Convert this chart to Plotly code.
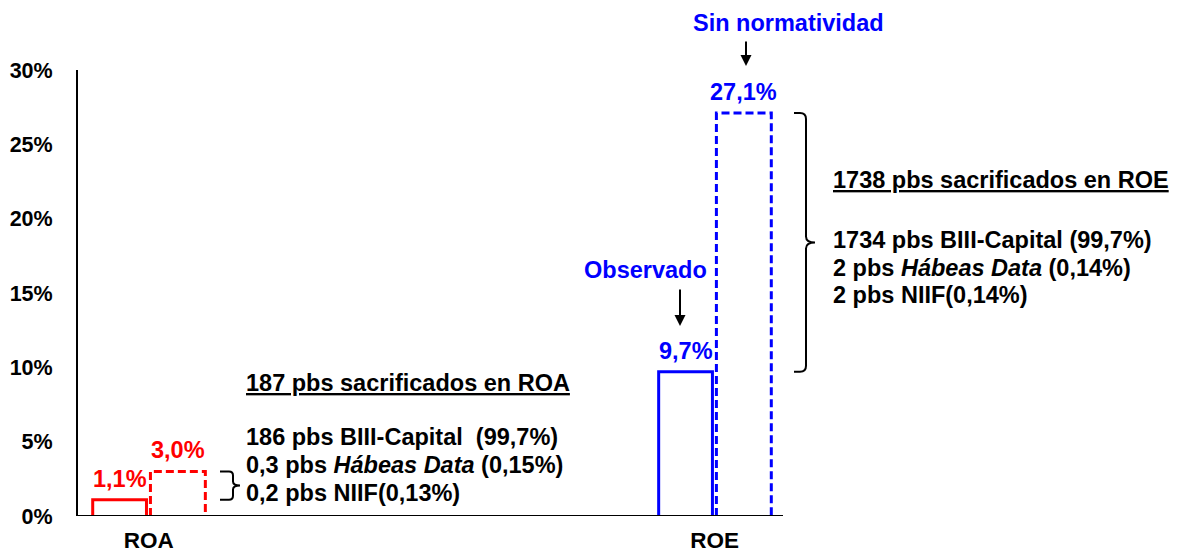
import plotly.graph_objects as go

# ---- data ----
categories = ["ROA", "ROE"]
observado = [1.1, 9.7]          # %
sin_normatividad = [3.0, 27.1]  # %
obs_labels = ["1,1%", "9,7%"]
sin_labels = ["3,0%", "27,1%"]
cat_colors = ["#FF0000", "#0000FF"]
y_ticks = [0, 5, 10, 15, 20, 25, 30]
y_ticktext = ["0%", "5%", "10%", "15%", "20%", "25%", "30%"]

roa_title = "187 pbs sacrificados en ROA"
roa_lines = ["186 pbs BIII-Capital  (99,7%)",
             "0,3 pbs <i>Hábeas Data</i> (0,15%)",
             "0,2 pbs NIIF(0,13%)"]
roe_title = "1738 pbs sacrificados en ROE"
roe_lines = ["1734 pbs BIII-Capital (99,7%)",
             "2 pbs <i>Hábeas Data</i> (0,14%)",
             "2 pbs NIIF(0,14%)"]

FONT = "Liberation Sans, Arial, sans-serif"
FS = 23.5
FS_TICK = 21.5
FS_CAT = 22.5

# geometry (style only); page body has an 8px margin
OFF = 8
W, H = 1182 - OFF, 554 - OFF
PLOT_L, PLOT_R, PLOT_T, PLOT_B = 78, 1172, 70, 516   # in screen pixels
ML, MR, MT, MB = PLOT_L - OFF, (W + OFF) - PLOT_R, PLOT_T - OFF, (H + OFF) - PLOT_B
X_MIN, X_MAX = -0.125, 1.808
obs_off = (-0.099, -0.004)
sin_off = (0.003, 0.100)


def px2paper_x(px):
    return (px - PLOT_L) / (PLOT_R - PLOT_L)


def px2paper_y(py):
    return (PLOT_B - py) / (PLOT_B - PLOT_T)


def px2data_x(px):
    return X_MIN + (px - PLOT_L) / (PLOT_R - PLOT_L) * (X_MAX - X_MIN)


fig = go.Figure()

# bars drawn as outlines (solid = observado, dashed = sin normatividad)
for i, cat in enumerate(categories):
    c = cat_colors[i]
    for vals, off, dash in [(observado, obs_off, "solid"), (sin_normatividad, sin_off, "8px,4px")]:
        v = vals[i]
        x0, x1 = i + off[0], i + off[1]
        fig.add_trace(go.Scatter(
            x=[x0, x0, x1, x1], y=[0, v, v, 0], mode="lines",
            line=dict(color=c, width=3, dash=dash),
            showlegend=False, hoverinfo="skip"))

annotations = []
# value labels
for i in range(len(categories)):
    for vals, off, labels in [(observado, obs_off, obs_labels), (sin_normatividad, sin_off, sin_labels)]:
        annotations.append(dict(
            x=i + (off[0] + off[1]) / 2, y=vals[i], xref="x", yref="y",
            text="<b>%s</b>" % labels[i], showarrow=False,
            xanchor="center", yanchor="bottom", yshift=6,
            font=dict(family=FONT, size=FS, color=cat_colors[i])))

# text blocks
def add_block(left_px, title_y, line_ys, title, lines):
    annotations.append(dict(x=px2paper_x(left_px), y=px2paper_y(title_y), xref="paper", yref="paper",
                            text="<b><u>%s</u></b>" % title, showarrow=False,
                            xanchor="left", yanchor="middle",
                            font=dict(family=FONT, size=FS, color="black")))
    for ly, t in zip(line_ys, lines):
        annotations.append(dict(x=px2paper_x(left_px), y=px2paper_y(ly), xref="paper", yref="paper",
                                text="<b>%s</b>" % t, showarrow=False,
                                xanchor="left", yanchor="middle",
                                font=dict(family=FONT, size=FS, color="black")))


add_block(244, 383, [437, 465, 493], roa_title, roa_lines)
add_block(831, 180, [240, 268, 295], roe_title, roe_lines)

# "Observado" / "Sin normatividad" callouts
annotations.append(dict(x=px2paper_x(645), y=px2paper_y(270), xref="paper", yref="paper",
                        text="<b>Observado</b>", showarrow=False,
                        xanchor="center", yanchor="middle",
                        font=dict(family=FONT, size=FS, color="#0000FF")))
annotations.append(dict(x=px2data_x(680), y=px2paper_y(326), xref="x", yref="paper",
                        text="", showarrow=True, ax=0, ay=-38, arrowhead=2,
                        arrowsize=1.1, arrowwidth=2, arrowcolor="black"))
annotations.append(dict(x=px2paper_x(788), y=px2paper_y(23), xref="paper", yref="paper",
                        text="<b>Sin normatividad</b>", showarrow=False,
                        xanchor="center", yanchor="middle",
                        font=dict(family=FONT, size=FS, color="#0000FF")))
annotations.append(dict(x=px2data_x(746), y=px2paper_y(66), xref="x", yref="paper",
                        text="", showarrow=True, ax=0, ay=-26, arrowhead=2,
                        arrowsize=1.1, arrowwidth=2, arrowcolor="black"))

# braces spanning observed -> sin normatividad
shapes = []


def brace(xl_px, xv_px, xp_px, y_top, y_bot, r_px):
    xl, xv, xp = px2data_x(xl_px), px2data_x(xv_px), px2data_x(xp_px)
    dx = (X_MAX - X_MIN) / (PLOT_R - PLOT_L) * r_px
    dy = 30 / (PLOT_B - PLOT_T) * r_px
    ym = (y_top + y_bot) / 2
    path = (f"M {xl},{y_top} L {xv - dx},{y_top} Q {xv},{y_top} {xv},{y_top - dy} "
            f"L {xv},{ym + dy} Q {xv},{ym} {xp},{ym} Q {xv},{ym} {xv},{ym - dy} "
            f"L {xv},{y_bot + dy} Q {xv},{y_bot} {xv - dx},{y_bot} L {xl},{y_bot}")
    shapes.append(dict(type="path", path=path, xref="x", yref="y",
                       line=dict(color="black", width=2)))


brace(220, 233, 240, sin_normatividad[0], observado[0], 4)
brace(794, 806, 815, sin_normatividad[1], observado[1], 6)

# x baseline
shapes.append(dict(type="line", xref="x", yref="y", x0=X_MIN, x1=px2data_x(783), y0=0, y1=0,
                   line=dict(color="black", width=2)))

fig.update_layout(
    width=W, height=H,
    margin=dict(l=ML, r=MR, t=MT, b=MB),
    plot_bgcolor="white", paper_bgcolor="white",
    showlegend=False,
    annotations=annotations, shapes=shapes,
    xaxis=dict(range=[X_MIN, X_MAX], tickvals=list(range(len(categories))),
               ticktext=["<b>%s</b>" % c for c in categories],
               showgrid=False, zeroline=False, showline=False, ticks="",
               ticklabelstandoff=8, automargin=False,
               tickfont=dict(family=FONT, size=FS_CAT, color="black")),
    yaxis=dict(range=[0, 30], tickvals=y_ticks,
               ticktext=["<b>%s</b>" % t for t in y_ticktext],
               showgrid=False, zeroline=False, showline=True, linecolor="black", linewidth=2,
               ticks="", ticklabelstandoff=19, automargin=False,
               tickfont=dict(family=FONT, size=FS_TICK, color="black")),
)

fig.write_html("out.html")
